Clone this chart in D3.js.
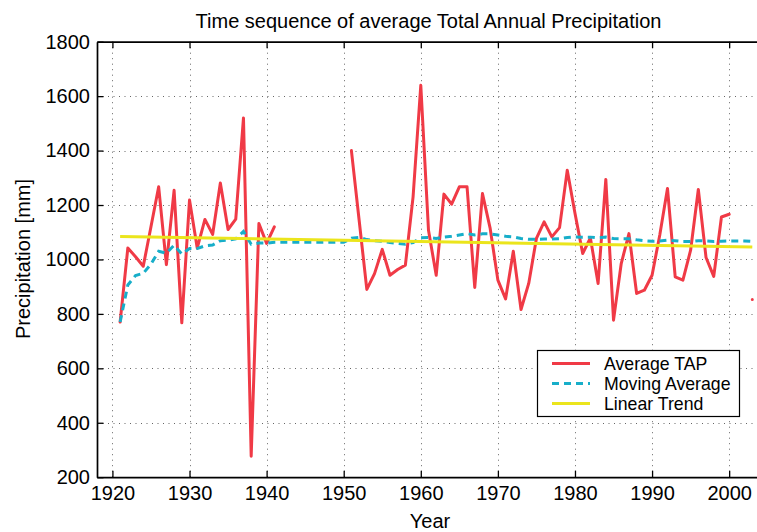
<!DOCTYPE html>
<html>
<head>
<meta charset="utf-8">
<script src="https://cdn.jsdelivr.net/npm/d3@7/dist/d3.min.js"></script>
<style>
  html, body { margin: 0; padding: 0; background: #fff; }
  svg { display: block; font-family: "Liberation Sans", Arial, Helvetica, sans-serif; }
</style>
</head>
<body>
<svg id="chart" width="757" height="532"></svg>
<script>
// Yearly average total annual precipitation (mm); null = no record
const years = d3.range(1921, 2004);
const tap = [
  770, 1042, 1010, 975, 1120, 1267, 981, 1254, 767, 1218,      // 1921-1930
  1042, 1147, 1092, 1281, 1110, 1148, 1520, 277, 1132, 1059,   // 1931-1940
  1120, null, null, null, null, null, null, null, null, null,  // 1941-1950
  1400, 1145, 890, 948, 1037, 942, 963, 979, 1230, 1640,       // 1951-1960
  1107, 942, 1240, 1203, 1267, 1267, 897, 1242, 1114, 924,     // 1961-1970
  855, 1030, 816, 912, 1077, 1138, 1083, 1117, 1328, 1170,     // 1971-1980
  1022, 1079, 912, 1294, 777, 985, 1095, 875, 887, 942,        // 1981-1990
  1090, 1261, 936, 924, 1034, 1257, 1007, 938, 1156, 1166,     // 1991-2000
  null, null, 853                                              // 2001-2003
];
// Moving average series (mm)
const movingAvg = [
  770, 906, 941, 949, 983, 1030, 1023, 1052, 1020, 1040,       // 1921-1930
  1040, 1050, 1053, 1069, 1071, 1076, 1103, 1056, 1060, 1060,  // 1931-1940
  1063, 1063, 1063, 1063, 1063, 1063, 1063, 1063, 1063, 1063,  // 1941-1950
  1078, 1081, 1073, 1069, 1067, 1062, 1059, 1056, 1062, 1080,  // 1951-1960
  1081, 1077, 1082, 1085, 1090, 1095, 1090, 1094, 1094, 1090,  // 1961-1970
  1085, 1083, 1077, 1074, 1074, 1075, 1075, 1076, 1081, 1083,  // 1971-1980
  1082, 1082, 1079, 1082, 1077, 1076, 1076, 1072, 1069, 1067,  // 1981-1990
  1068, 1071, 1069, 1066, 1066, 1069, 1068, 1066, 1067, 1068,  // 1991-2000
  1068, 1068, 1066                                             // 2001-2003
];
// Linear trend end points
const trendYears = [1921, 2003];
const trendValues = [1084, 1046];

const xTicks = [1920, 1930, 1940, 1950, 1960, 1970, 1980, 1990, 2000];
const yTicks = [200, 400, 600, 800, 1000, 1200, 1400, 1600, 1800];

const titleText = "Time sequence of average Total Annual Precipitation";
const xLabel = "Year";
const yLabel = "Precipitation [mm]";
const legendLabels = ["Average TAP", "Moving Average", "Linear Trend"];

const colors = { tap: "#f03a46", avg: "#17aec9", trend: "#ebe51c" };

const svg = d3.select("#chart");
const m = { left: 97, top: 41.7, right: 760, bottom: 477.2 };

const x = d3.scaleLinear().domain([1918, 2004]).range([m.left, m.right]);
const y = d3.scaleLinear().domain([200, 1800]).range([m.bottom, m.top]);

svg.append("rect").attr("width", 757).attr("height", 532).attr("fill", "#fff");

// dotted grid
const grid = svg.append("g").attr("stroke", "#666").attr("stroke-width", 1)
  .attr("stroke-dasharray", "1,4.5");
grid.selectAll(".gx").data(xTicks).join("line")
  .attr("x1", d => Math.round(x(d)) + 0.5).attr("x2", d => Math.round(x(d)) + 0.5)
  .attr("y1", m.top).attr("y2", m.bottom);
grid.selectAll(".gy").data(yTicks.slice(1, -1)).join("line")
  .attr("y1", d => Math.round(y(d)) + 0.5).attr("y2", d => Math.round(y(d)) + 0.5)
  .attr("x1", m.left).attr("x2", m.right);

// data lines
const plot = svg.append("g");
const tapLine = d3.line()
  .defined(d => d[1] !== null)
  .x(d => x(d[0])).y(d => y(d[1]));
plot.append("path")
  .datum(years.map((yr, i) => [yr, tap[i]]))
  .attr("d", tapLine)
  .attr("fill", "none").attr("stroke", colors.tap).attr("stroke-width", 3)
  .attr("stroke-linejoin", "round").attr("stroke-linecap", "round");

plot.append("path")
  .datum(years.map((yr, i) => [yr, movingAvg[i]]))
  .attr("d", d3.line().x(d => x(d[0])).y(d => y(d[1])))
  .attr("fill", "none").attr("stroke", colors.avg).attr("stroke-width", 3)
  .attr("stroke-dasharray", "7,5");

plot.append("path")
  .datum(trendYears.map((yr, i) => [yr, trendValues[i]]))
  .attr("d", d3.line().x(d => x(d[0])).y(d => y(d[1])))
  .attr("fill", "none").attr("stroke", colors.trend).attr("stroke-width", 3);

// axes with inward ticks
const fontSize = 20;
const gx = svg.append("g").attr("transform", `translate(0,${m.bottom})`)
  .call(d3.axisBottom(x).tickValues(xTicks).tickFormat(d3.format("d"))
    .tickSizeInner(-6.5).tickSizeOuter(0).tickPadding(9));
const gxTop = svg.append("g").attr("transform", `translate(0,${m.top})`)
  .call(d3.axisTop(x).tickValues(xTicks).tickFormat("")
    .tickSizeInner(-6.5).tickSizeOuter(0));
const gy = svg.append("g").attr("transform", `translate(${m.left},0)`)
  .call(d3.axisLeft(y).tickValues(yTicks).tickFormat(d3.format("d"))
    .tickSizeInner(-6.5).tickSizeOuter(0).tickPadding(7));

[gx, gxTop, gy].forEach(g => {
  g.select(".domain").attr("stroke", "#000").attr("stroke-width", 1.7);
  g.selectAll(".tick line").attr("stroke", "#000").attr("stroke-width", 1.3);
  g.selectAll(".tick text").attr("fill", "#000")
    .style("font-size", fontSize + "px")
    .style("font-family", "'Liberation Sans', Arial, Helvetica, sans-serif");
});

// title and axis labels
svg.append("text").attr("x", 428.5).attr("y", 28.3).attr("text-anchor", "middle")
  .style("font-size", "20px").attr("fill", "#000").text(titleText);
svg.append("text").attr("x", 430).attr("y", 528).attr("text-anchor", "middle")
  .style("font-size", "20px").attr("fill", "#000").text(xLabel);
svg.append("text").attr("transform", "translate(30,259) rotate(-90)")
  .attr("text-anchor", "middle")
  .style("font-size", "20px").attr("fill", "#000").text(yLabel);

// legend
const lg = svg.append("g");
lg.append("rect").attr("x", 537.5).attr("y", 350.5).attr("width", 202).attr("height", 66)
  .attr("fill", "#fff").attr("stroke", "#000").attr("stroke-width", 1.2);
const legendStyles = [
  { color: colors.tap, dash: null },
  { color: colors.avg, dash: "7,5" },
  { color: colors.trend, dash: null }
];
legendLabels.forEach((label, i) => {
  const cy = 363.5 + i * 20;
  lg.append("line").attr("x1", 552).attr("x2", 590).attr("y1", cy).attr("y2", cy)
    .attr("stroke", legendStyles[i].color).attr("stroke-width", 3)
    .attr("stroke-dasharray", legendStyles[i].dash);
  lg.append("text").attr("x", 604).attr("y", cy).attr("dy", "0.35em")
    .style("font-size", "17.7px").attr("fill", "#000").text(label);
});
</script>
</body>
</html>
